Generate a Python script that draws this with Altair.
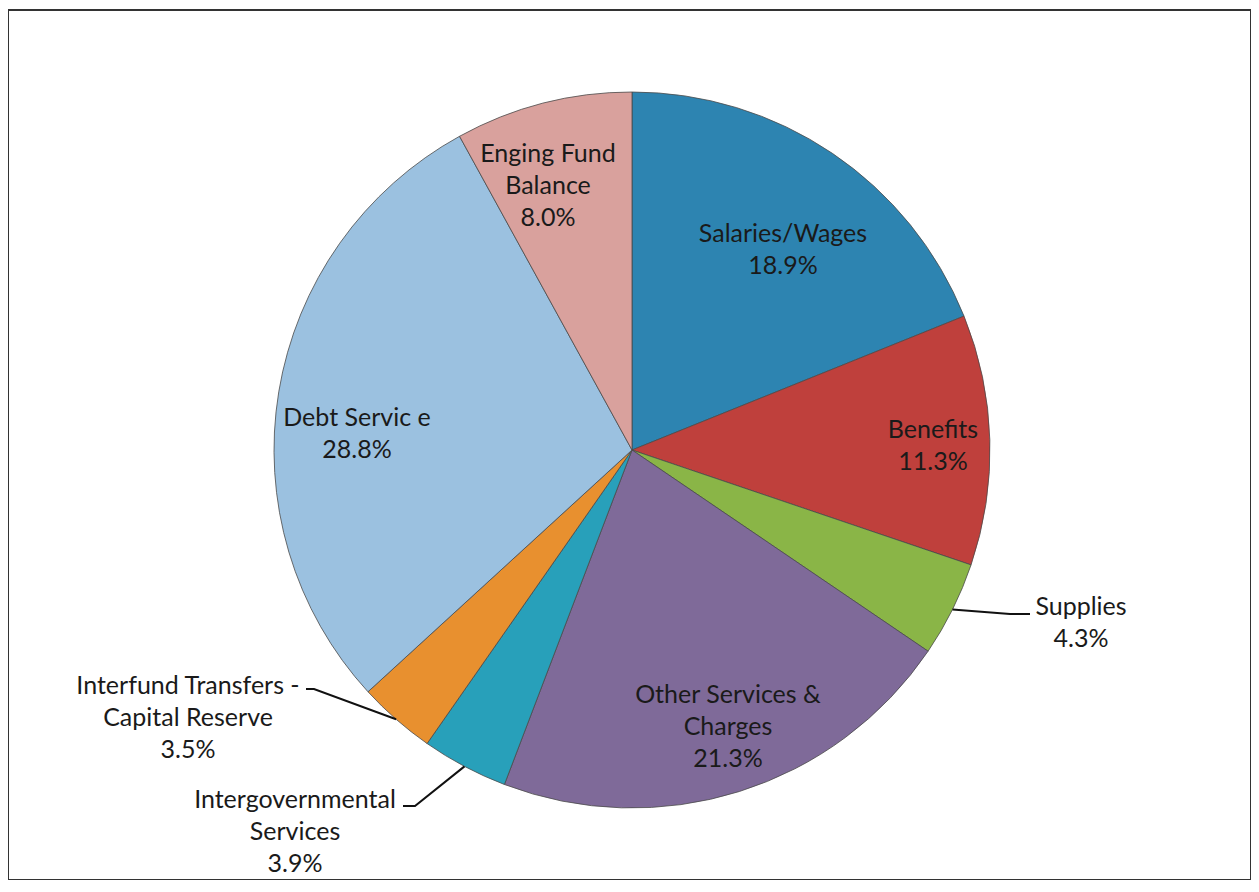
import math
import altair as alt
import pandas as pd

# ---- data ----
categories = [
    "Salaries/Wages",
    "Benefits",
    "Supplies",
    "Other Services & Charges",
    "Intergovernmental Services",
    "Interfund Transfers - Capital Reserve",
    "Debt Servic e",
    "Enging Fund Balance",
]
values = [18.9, 11.3, 4.3, 21.3, 3.9, 3.5, 28.8, 8.0]
label_names = [
    "Salaries/Wages",
    "Benefits",
    "Supplies",
    "Other Services &\nCharges",
    "Intergovernmental\nServices",
    "Interfund Transfers -\nCapital Reserve",
    "Debt Servic e",
    "Enging Fund\nBalance",
]
colors = ["#2d84b1", "#bf403c", "#8ab547", "#7f6a99", "#28a0ba", "#e8902f", "#9bc1e0", "#d9a19d"]

# ---- layout (styling, not data) ----
W, H = 1243, 870
CX, CY, R = 624, 440, 358
LH = 32
label_offset = {  # label block centre relative to pie centre
    "Salaries/Wages": (151, -200),
    "Benefits": (301, -4),
    "Supplies": (449, 173),
    "Other Services & Charges": (96, 277),
    "Intergovernmental Services": (-337, 382),
    "Interfund Transfers - Capital Reserve": (-444, 268),
    "Debt Servic e": (-275, -16),
    "Enging Fund Balance": (-84, -264),
}
leader_pts = {  # bend and end points of leader lines, relative to pie centre
    "Supplies": [(378, 164), (398, 164)],
    "Interfund Transfers - Capital Reserve": [(-318, 239), (-326, 239)],
    "Intergovernmental Services": [(-217, 356), (-229, 356)],
}

df = pd.DataFrame({"category": categories, "value": values, "idx": range(len(categories))})

total = sum(values)
rows_lbl, rows_line = [], []
cum = 0.0
for cat, v, name in zip(categories, values, label_names):
    mid = (cum + v / 2) / total * 2 * math.pi
    cum += v
    dx, dy = label_offset[cat]
    text = f"{name}\n{v:.1f}%"
    n = text.count("\n") + 1
    rows_lbl.append({"category": cat, "text": text, "lx": CX + dx,
                     "ly": CY + dy - (n - 1) * LH / 2})
    if cat in leader_pts:
        ex, ey = CX + R * math.sin(mid), CY - R * math.cos(mid)
        pts = [(ex, ey)] + [(CX + a, CY + b) for a, b in leader_pts[cat]]
        for i, (px, py) in enumerate(pts):
            rows_line.append({"category": cat, "ord": i, "px": px, "py": py})

lbl_df = pd.DataFrame(rows_lbl)
line_df = pd.DataFrame(rows_line)

pie = alt.Chart(df).mark_arc(outerRadius=R, stroke="#4a4a4a", strokeWidth=0.8).encode(
    theta=alt.Theta("value:Q", stack=True),
    color=alt.Color("category:N", scale=alt.Scale(domain=categories, range=colors), legend=None),
    order=alt.Order("idx:Q"),
    x=alt.value(CX),
    y=alt.value(CY),
)

lines = alt.Chart(line_df).mark_line(color="#111111", strokeWidth=2).encode(
    x=alt.X("px:Q", scale=None, axis=None),
    y=alt.Y("py:Q", scale=None, axis=None),
    detail="category:N",
    order="ord:Q",
)

labels = alt.Chart(lbl_df).mark_text(
    font="Lato", fontSize=25, lineBreak="\n", lineHeight=LH,
    align="center", baseline="middle", color="#1a1a1a",
).encode(
    x=alt.X("lx:Q", scale=None, axis=None),
    y=alt.Y("ly:Q", scale=None, axis=None),
    text="text:N",
)

chart = alt.layer(pie, lines, labels).properties(
    width=W, height=H,
    autosize=alt.AutoSizeParams(type="none"),
    padding={"left": 0, "top": 2, "right": 0, "bottom": 0},
    background="white",
).configure_view(stroke="#333333", strokeWidth=2)

chart.save("out.html", embed_options={"renderer": "svg", "actions": False})
